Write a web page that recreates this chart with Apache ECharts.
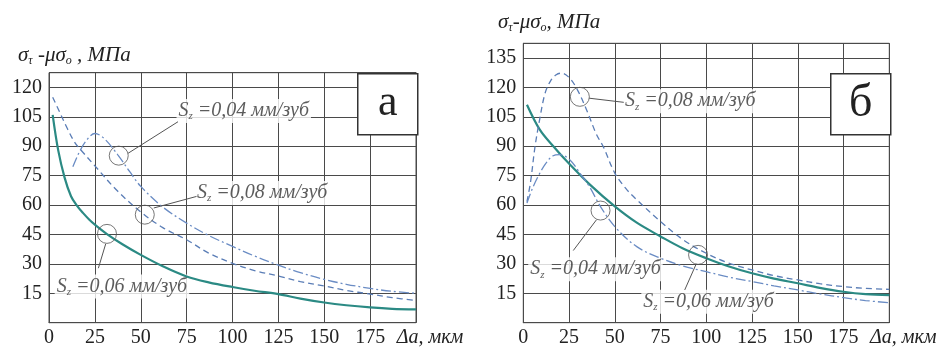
<!DOCTYPE html>
<html>
<head>
<meta charset="utf-8">
<script src="https://cdn.jsdelivr.net/npm/echarts@6/dist/echarts.min.js"></script>
<style>
  html, body { margin: 0; padding: 0; background: #fff; }
  #chart { width: 943px; height: 352px; }
</style>
</head>
<body>
<div id="chart"></div>
<script>
// --- data ---
// x ticks (мкм)
const xTicks = [0, 25, 50, 75, 100, 125, 150, 175, 200];

// panel а
const aX06 = [2, 5, 8.5, 12, 15, 18.5, 22, 25, 31.6, 40, 50, 62, 75, 87, 100, 112, 125, 137, 150, 162, 175, 187, 200];
const aY06 = [106, 88, 74, 64.5, 60, 56, 52.5, 50, 45.2, 40, 34.6, 28.8, 23.6, 20.6, 18.2, 16.3, 14.6, 12.3, 10.3, 8.9, 7.8, 7.1, 6.8];
const aX08 = [2, 6, 10, 14, 17, 25, 37.5, 50, 62, 75, 87, 100, 112, 125, 137, 150, 162, 175, 187, 200];
const aY08 = [115, 107, 99, 92, 88.5, 80, 67, 56.5, 48.5, 42.3, 35.5, 30.3, 26.6, 23.8, 21, 18.7, 16.5, 14.6, 12.8, 11.3];
const aX04 = [13, 16, 20, 25, 30, 37.6, 44, 50, 62, 75, 87, 100, 112, 125, 137, 150, 162, 175, 187, 200];
const aY04 = [79.5, 86, 92.5, 96.5, 94, 85.5, 77, 69.5, 59, 50.8, 44.5, 38.9, 34, 29.4, 25.5, 22.1, 19.6, 17.5, 16, 15];

// panel б
const bX06 = [2, 9, 16.4, 24.7, 36.4, 50, 62, 75, 87, 100, 112, 125, 137, 150, 162, 175, 187, 200];
const bY06 = [111.2, 98.5, 90, 81.4, 70.4, 59.3, 51, 44, 38, 32.9, 28.8, 25.2, 22.5, 20.1, 17.8, 15.8, 14.6, 14.1];
const bX08 = [2, 4, 6.4, 9, 11.9, 15, 18, 21, 25.5, 30, 34.6, 40, 43.7, 50, 56, 62, 75, 87, 100, 112, 125, 137, 150, 162, 175, 187, 200];
const bY08 = [61.7, 72, 89.8, 104, 117, 123.5, 126.5, 127.3, 124.6, 118, 108.5, 96, 89.8, 76.3, 68.5, 62.7, 51.6, 42.5, 35.4, 30.5, 26.9, 24, 21.8, 19.9, 18.4, 17.5, 17];
const bX04 = [2, 5, 9, 12.5, 16, 20, 25.5, 31, 36.4, 42, 50, 62, 75, 87, 100, 112, 125, 137, 150, 162, 175, 187, 200];
const bY04 = [61, 68.5, 76.2, 81.5, 85, 85.7, 83, 76.2, 69, 59.5, 49, 38.8, 32.9, 29, 26, 23.3, 21, 18.8, 16.7, 14.7, 12.8, 11.3, 10.2];

// callouts: circle centre, leader line, text anchor (data units)
const aNotes = [
  { sz: '0,04', c: [38, 85.2], l: [[43.1, 86.4], [70.3, 102.5]], t: [69.5, 108] },
  { sz: '0,08', c: [52.2, 55.1], l: [[57.1, 58.5], [80.4, 64.4]], t: [79.5, 66.1] },
  { sz: '0,06', c: [31.6, 45.3], l: [[30.9, 40.2], [26.9, 27.8]], t: [3.1, 18.4] }
];
const bNotes = [
  { sz: '0,08', c: [30.9, 115.2], l: [[36, 114.5], [54.9, 112.4]], t: [54.5, 113] },
  { sz: '0,04', c: [42.2, 57.2], l: [[40, 52.5], [27.3, 36.8]], t: [2.7, 27.3] },
  { sz: '0,06', c: [95.5, 34.6], l: [[94.5, 30], [88.2, 16.7]], t: [64.5, 10.7] }
];

const SERIF = 'Liberation Serif';
const GRID = '#4a4a4a';
const C06 = '#2b8a84';
const C08 = '#5a7db6';
const C04 = '#6a8cc4';

const zip = (xs, ys) => xs.map((x, i) => [x, ys[i]]);

function axesFor(i, yMax) {
  const x = {
    type: 'value', gridIndex: i, min: 0, max: 200, interval: 25,
    axisLine: { show: true, lineStyle: { color: GRID } },
    axisTick: { show: false },
    splitLine: { show: true, lineStyle: { color: GRID, width: 1 } },
    axisLabel: {
      margin: 5, color: '#222', fontFamily: SERIF, fontSize: 20,
      formatter: v => v === 200 ? '{u|Δa, мкм}' : String(v),
      rich: { u: { fontFamily: SERIF, fontSize: 20, fontStyle: 'italic', color: '#222', padding: [0, 0, 0, 28] } }
    }
  };
  const y = {
    type: 'value', gridIndex: i, min: 0, max: yMax, interval: 15,
    axisLine: { show: true, lineStyle: { color: GRID } },
    axisTick: { show: false },
    splitLine: { show: true, lineStyle: { color: GRID, width: 1 } },
    axisLabel: {
      margin: 7, color: '#222', fontFamily: SERIF, fontSize: 20,
      formatter: v => (v === 0 || v % 15 !== 0) ? '' : String(v)
    }
  };
  return [x, y];
}

function curve(i, xs, ys, color, width, type) {
  return {
    type: 'line', xAxisIndex: i, yAxisIndex: i, data: zip(xs, ys),
    smooth: 0.35, showSymbol: false, symbol: 'none', z: 5,
    lineStyle: { color: color, width: width, type: type }
  };
}

function notes(i, list) {
  return [
    {
      type: 'scatter', xAxisIndex: i, yAxisIndex: i, z: 6, silent: true,
      symbol: 'circle', symbolSize: 19,
      itemStyle: { color: 'rgba(0,0,0,0)', borderColor: '#555', borderWidth: 1 },
      data: list.map(n => n.c)
    },
    {
      type: 'lines', coordinateSystem: 'cartesian2d', xAxisIndex: i, yAxisIndex: i, z: 6, silent: true,
      lineStyle: { color: '#555', width: 1, opacity: 1 },
      data: list.map(n => ({ coords: n.l }))
    },
    {
      type: 'scatter', xAxisIndex: i, yAxisIndex: i, z: 4, silent: true,
      symbolSize: 0,
      data: list.map(n => ({ value: n.t, sz: n.sz })),
      label: {
        show: true, position: 'right', distance: 0,
        backgroundColor: '#fff', padding: [1, 2, 1, 2],
        formatter: p => '{s|S}{z|z}{t| =' + p.data.sz + ' мм/зуб}',
        rich: {
          s: { fontFamily: SERIF, fontStyle: 'italic', fontSize: 20, color: '#333', lineHeight: 22 },
          z: { fontFamily: SERIF, fontStyle: 'italic', fontSize: 11, color: '#333', verticalAlign: 'bottom', lineHeight: 22, padding: [10, 0, 0, 0] },
          t: { fontFamily: SERIF, fontStyle: 'italic', fontSize: 20, color: '#333', lineHeight: 22 }
        }
      }
    }
  ];
}

const titleRich = {
  a: { fontFamily: SERIF, fontStyle: 'italic', fontWeight: 'normal', fontSize: 21, color: '#222', lineHeight: 24 },
  d: { fontFamily: SERIF, fontStyle: 'italic', fontWeight: 'normal', fontSize: 12, color: '#222', lineHeight: 24, verticalAlign: 'bottom', padding: [10, 0, 0, 0] }
};
const titleA = '{a|σ}{d|τ}{a| -μσ}{d|o}{a| , МПа}';
const titleB = '{a|σ}{d|τ}{a|-μσ}{d|o}{a|, МПа}';

function panelBox(left, letter, size) {
  return {
    type: 'group', left: left, top: 73,
    children: [
      { type: 'rect', shape: { x: 0, y: 0, width: 60, height: 61 }, style: { fill: '#fff', stroke: '#333', lineWidth: 1.5 }, z: 10 },
      { type: 'text', x: 30, y: 30, style: { text: letter, fontFamily: SERIF, fontSize: size, fill: '#222', align: 'center', verticalAlign: 'middle' }, z: 11 }
    ]
  };
}

const [xa, ya] = axesFor(0, 127.5);
const [xb, yb] = axesFor(1, 142.5);

const option = {
  animation: false,
  backgroundColor: '#fff',
  title: [
    { text: titleA, left: 18, top: 43, padding: 0, textStyle: { fontWeight: 'normal', rich: titleRich } },
    { text: titleB, left: 498, top: 10, padding: 0, textStyle: { fontWeight: 'normal', rich: titleRich } }
  ],
  grid: [
    { left: 49, right: 527, top: 72.7, bottom: 29.3, show: true, borderColor: GRID, borderWidth: 1 },
    { left: 523.3, right: 53.7, top: 43.3, bottom: 29.3, show: true, borderColor: GRID, borderWidth: 1 }
  ],
  xAxis: [xa, xb],
  yAxis: [ya, yb],
  graphic: [
    panelBox(357, 'а', 44),
    panelBox(830, 'б', 46)
  ],
  series: [
    curve(0, aX06, aY06, C06, 2.2, 'solid'),
    curve(0, aX08, aY08, C08, 1.3, [6, 4]),
    curve(0, aX04, aY04, C04, 1.3, [10, 3, 2, 3]),
    curve(1, bX06, bY06, C06, 2.2, 'solid'),
    curve(1, bX08, bY08, C08, 1.3, [6, 4]),
    curve(1, bX04, bY04, C04, 1.3, [10, 3, 2, 3]),
    ...notes(0, aNotes),
    ...notes(1, bNotes)
  ]
};

const chart = echarts.init(document.getElementById('chart'));
chart.setOption(option);
</script>
</body>
</html>
